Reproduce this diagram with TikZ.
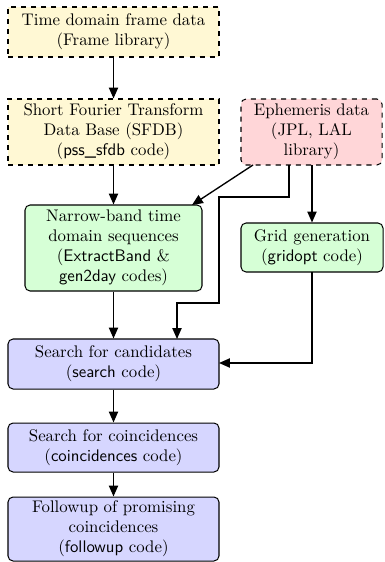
\documentclass[tikz,border=0pt]{standalone}
\usetikzlibrary{arrows.meta}
\definecolor{ylw}{HTML}{FFF8D4}
\definecolor{rdd}{HTML}{FFD6D8}
\definecolor{grn}{HTML}{D6FFD6}
\definecolor{blu}{HTML}{D6D6FF}
\begin{document}
\begin{tikzpicture}[x=0.595pt,y=-0.595pt,
  box/.style={draw=black, semithick, align=center, inner sep=0pt, font=\normalsize},
  datab/.style={box, dashed, fill=ylw},
  ephb/.style={box, dashed, rounded corners=3pt, fill=rdd},
  procg/.style={box, rounded corners=3pt, fill=grn},
  procb/.style={box, rounded corners=3pt, fill=blu},
  conn/.style={thick, -{Triangle[length=6.5pt,width=5.5pt]}}]
\useasboundingbox (0,0) rectangle (384,562);
\node[datab, minimum width=211*0.595pt, minimum height=50*0.595pt] (frame) at (113.5,32)
  {Time domain frame data\\(Frame library)};
\node[datab, minimum width=211*0.595pt, minimum height=66*0.595pt] (sfdb) at (113.5,132)
  {Short Fourier Transform\\Data Base (SFDB)\\(\textsf{pss\_sfdb} code)};
\node[ephb, minimum width=141*0.595pt, minimum height=66*0.595pt] (eph) at (311.5,132)
  {Ephemeris data\\(JPL, LAL\\library)};
\node[procg, minimum width=177*0.595pt, minimum height=86*0.595pt] (nb) at (113.5,248)
  {Narrow-band time\\domain sequences\\(\textsf{ExtractBand} \&\\\textsf{gen2day} codes)};
\node[procg, minimum width=142*0.595pt, minimum height=49*0.595pt] (grid) at (312,247.5)
  {Grid generation\\(\textsf{gridopt} code)};
\node[procb, minimum width=211*0.595pt, minimum height=50*0.595pt] (search) at (113.5,364)
  {Search for candidates\\(\textsf{search} code)};
\node[procb, minimum width=211*0.595pt, minimum height=49*0.595pt] (coinc) at (113.5,447.5)
  {Search for coincidences\\(\textsf{coincidences} code)};
\node[procb, minimum width=211*0.595pt, minimum height=64*0.595pt] (fup) at (113.5,529)
  {Followup of promising\\coincidences\\(\textsf{followup} code)};
\coordinate (e1) at (253,165);
\coordinate (e2) at (289,165);
\coordinate (e3) at (312,165);
\coordinate (n1) at (192,205);
\coordinate (s1) at (177,339);
\coordinate (g1) at (312,272);
\coordinate (s2) at (219,363);
\draw[conn] (frame) -- (sfdb);
\draw[conn] (sfdb) -- (nb);
\draw[conn] (e1) -- (n1);
\draw[conn] (e2) -- (289,197) -- (219,197) -- (219,303) -- (177,303) -- (s1);
\draw[conn] (e3) -- (grid.north -| e3);
\draw[conn] (g1) -- (312,363) -- (s2);
\draw[conn] (nb) -- (search);
\draw[conn] (search) -- (coinc);
\draw[conn] (coinc) -- (fup);
\end{tikzpicture}
\end{document}
